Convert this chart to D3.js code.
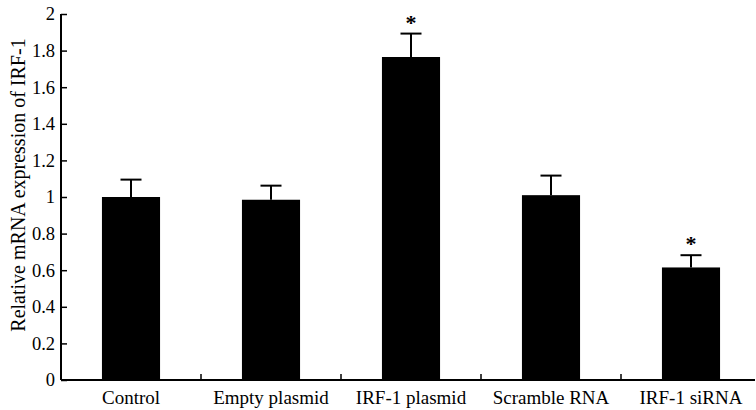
<!DOCTYPE html>
<html>
<head>
<meta charset="utf-8">
<script src="https://cdn.jsdelivr.net/npm/d3@7"></script>
<style>
  body { margin: 0; background: #fff; }
  svg text { font-family: "Liberation Serif", "Times New Roman", serif; fill: #000; }
</style>
</head>
<body>
<svg width="756" height="410"></svg>
<script>
// data
var groups = ["Control", "Empty plasmid", "IRF-1 plasmid", "Scramble RNA", "IRF-1 siRNA"];
var means = [1.0, 0.985, 1.765, 1.01, 0.615];
var errors = [0.095, 0.077, 0.128, 0.107, 0.067];
var signif = [false, false, true, false, true];
var yTicks = [0, 0.2, 0.4, 0.6, 0.8, 1, 1.2, 1.4, 1.6, 1.8, 2];

var svg = d3.select("svg"),
    margin = {top: 14, right: 1, bottom: 30, left: 61},
    width = +svg.attr("width") - margin.left - margin.right,
    height = +svg.attr("height") - margin.top - margin.bottom,
    g = svg.append("g").attr("transform", "translate(" + margin.left + "," + margin.top + ")");

// category bands run a little past the right edge, as in the figure
var x = d3.scaleBand()
    .domain(groups)
    .range([0, 700])
    .paddingInner(0.585)
    .paddingOuter(0.2925);

var y = d3.scaleLinear()
    .domain([0, 2])
    .range([height, 0]);

var rows = groups.map(function(d, i) {
  return {name: d, mean: means[i], err: errors[i], sig: signif[i]};
});

// bars
g.selectAll(".bar")
  .data(rows)
  .enter().append("rect")
    .attr("class", "bar")
    .attr("x", function(d) { return x(d.name); })
    .attr("y", function(d) { return y(d.mean); })
    .attr("width", x.bandwidth())
    .attr("height", function(d) { return height - y(d.mean); })
    .attr("fill", "#000");

// error bars (upper only)
var eb = g.selectAll(".err")
  .data(rows)
  .enter().append("g")
    .attr("class", "err")
    .attr("transform", function(d) { return "translate(" + (x(d.name) + x.bandwidth() / 2) + ",0)"; });

eb.append("line")
    .attr("y1", function(d) { return y(d.mean); })
    .attr("y2", function(d) { return y(d.mean + d.err); })
    .attr("stroke", "#000").attr("stroke-width", 2);

eb.append("line")
    .attr("x1", -10.5).attr("x2", 10.5)
    .attr("y1", function(d) { return y(d.mean + d.err); })
    .attr("y2", function(d) { return y(d.mean + d.err); })
    .attr("stroke", "#000").attr("stroke-width", 2);

// asterisks
eb.filter(function(d) { return d.sig; }).append("text")
    .attr("y", function(d) { return y(d.mean + d.err) - 4; })
    .attr("text-anchor", "middle")
    .attr("font-size", 22)
    .attr("font-weight", "bold")
    .text("*");

// y axis
var yAxis = g.append("g")
    .call(d3.axisLeft(y).tickValues(yTicks).tickSize(-6).tickPadding(6)
      .tickFormat(function(d) { return String(+d.toFixed(1)); }));
yAxis.select(".domain").attr("d", "M0," + y(2) + "V" + height).attr("stroke-width", 2);
yAxis.selectAll(".tick line").attr("stroke-width", 1.5);
yAxis.selectAll("text")
    .style("font-family", "'Liberation Serif', serif")
    .style("font-size", "18.5px");

// x axis: ticks on category boundaries, pointing up
var xAxis = g.append("g")
    .attr("transform", "translate(0," + height + ")");
xAxis.append("line")
    .attr("x1", 0).attr("x2", width)
    .attr("stroke", "#000").attr("stroke-width", 2);
xAxis.selectAll(".bound")
  .data(groups.slice(1))
  .enter().append("line")
    .attr("x1", function(d) { return x(d) - x.step() * x.paddingInner() / 2; })
    .attr("x2", function(d) { return x(d) - x.step() * x.paddingInner() / 2; })
    .attr("y1", 0).attr("y2", -6)
    .attr("stroke", "#000").attr("stroke-width", 1.5);
xAxis.selectAll(".lab")
  .data(groups)
  .enter().append("text")
    .attr("x", function(d) { return x(d) + x.bandwidth() / 2; })
    .attr("y", 24)
    .attr("text-anchor", "middle")
    .attr("font-size", 19)
    .text(function(d) { return d; });

// y axis title
svg.append("text")
    .attr("transform", "translate(25,185) rotate(-90)")
    .attr("text-anchor", "middle")
    .attr("font-size", 20)
    .text("Relative mRNA expression of IRF-1");
</script>
</body>
</html>
